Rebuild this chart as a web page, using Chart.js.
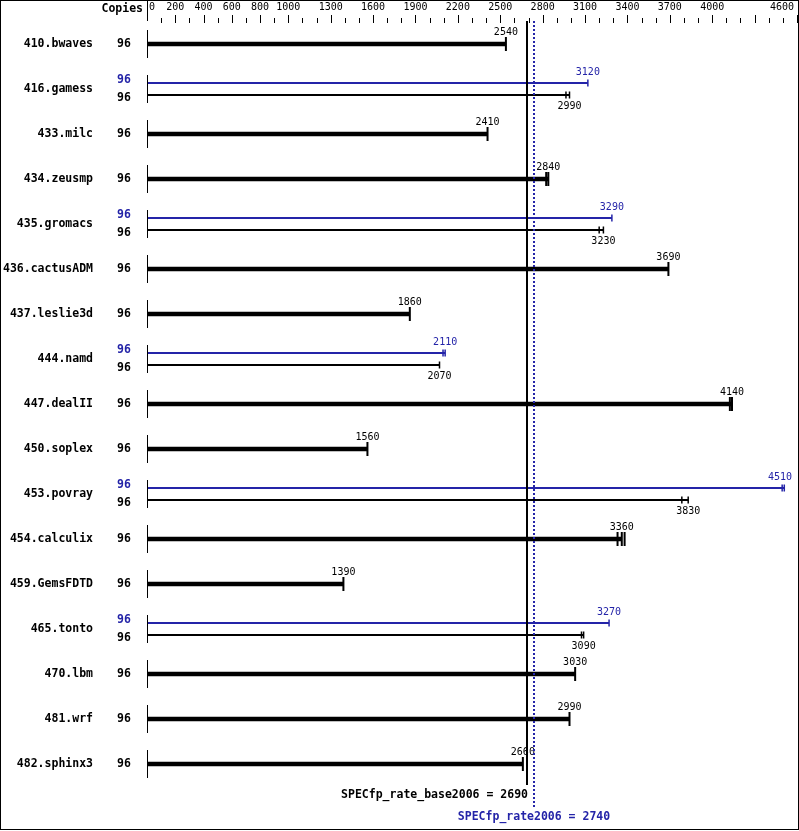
<!DOCTYPE html>
<html>
<head>
<meta charset="utf-8">
<script src="https://cdn.jsdelivr.net/npm/chart.js@4/dist/chart.umd.min.js"></script>
<style>
  body { margin: 0; background: #fff; }
  canvas { display: block; }
</style>
</head>
<body>
<canvas id="spec" width="799" height="831"></canvas>
<script>
// benchmark rows, top to bottom
const benchmarks = ['410.bwaves', '416.gamess', '433.milc', '434.zeusmp', '435.gromacs', '436.cactusADM',
  '437.leslie3d', '444.namd', '447.dealII', '450.soplex', '453.povray', '454.calculix', '459.GemsFDTD',
  '465.tonto', '470.lbm', '481.wrf', '482.sphinx3'];
const copies = [96, 96, 96, 96, 96, 96, 96, 96, 96, 96, 96, 96, 96, 96, 96, 96, 96];

// base and peak ratios (median), null when there is no peak run
const baseRate = [2540, 2990, 2410, 2840, 3230, 3690, 1860, 2070, 4140, 1560, 3830, 3360, 1390, 3090, 3030, 2990, 2660];
const peakRate = [null, 3120, null, null, 3290, null, null, 2110, null, null, 4510, null, null, 3270, null, null, null];

// individual run results, shown as the little end marks
const baseRuns = [[2540], [2965, 2990], [2410], [2825, 2840], [3200, 3230], [3690], [1860], [2070], [4125, 4140],
  [1560], [3785, 3830], [3330, 3360, 3380], [1390], [3075, 3090], [3030], [2990], [2660]];
const peakRuns = [null, [3120], null, null, [3290], null, null, [2095, 2110], null, null, [4495, 4510], null, null,
  [3270], null, null, null];

// top axis
const axisLabels = [0, 200, 400, 600, 800, 1000, 1300, 1600, 1900, 2200, 2500, 2800, 3100, 3400, 3700, 4000, 4600];
const longTicks = [...axisLabels, 4300];
const axisMax = 4600;

const baseScore = 2690;
const peakScore = 2740;

const BLUE = '#2424a8';
const ROW_OFF = 0.135; // half the gap between peak and base line, in row units

const datasets = [];
const thickTicks = [], thinTicks = [], peakTicks = [];

benchmarks.forEach((name, i) => {
  const hasPeak = peakRate[i] != null;
  if (hasPeak) {
    datasets.push({
      type: 'line', showLine: true, pointRadius: 0, borderColor: BLUE, borderWidth: 2,
      data: [{ x: 0, y: i - ROW_OFF }, { x: peakRate[i], y: i - ROW_OFF }]
    });
    datasets.push({
      type: 'line', showLine: true, pointRadius: 0, borderColor: '#000', borderWidth: 2,
      data: [{ x: 0, y: i + ROW_OFF }, { x: baseRate[i], y: i + ROW_OFF }]
    });
    peakRuns[i].forEach(v => peakTicks.push({ x: v, y: i - ROW_OFF }));
    baseRuns[i].forEach(v => thinTicks.push({ x: v, y: i + ROW_OFF }));
  } else {
    datasets.push({
      type: 'line', showLine: true, pointRadius: 0, borderColor: '#000', borderWidth: 4.5,
      data: [{ x: 0, y: i }, { x: baseRate[i], y: i }]
    });
    baseRuns[i].forEach(v => thickTicks.push({ x: v, y: i }));
  }
});

const tickStyle = { showLine: false, pointStyle: 'line', rotation: 90, borderWidth: 1.5 };
datasets.push({ ...tickStyle, data: thickTicks, pointRadius: 7, borderColor: '#000', borderWidth: 2 });
datasets.push({ ...tickStyle, data: thinTicks, pointRadius: 3.5, borderColor: '#000' });
datasets.push({ ...tickStyle, data: peakTicks, pointRadius: 3.5, borderColor: BLUE });

const BOLD = 'bold 11.5px "DejaVu Sans Mono"';
const SMALL = '10px "DejaVu Sans Mono"';

const specPlugin = {
  id: 'spec',
  beforeDraw(chart) {
    const c = chart.ctx;
    c.save();
    c.fillStyle = '#fff';
    c.fillRect(0, 0, chart.width, chart.height);
    c.restore();
  },
  afterDatasetsDraw(chart) {
    const c = chart.ctx;
    const xs = chart.scales.x, ys = chart.scales.y;
    const x0 = Math.round(xs.getPixelForValue(0)) + 0.5;
    c.save();

    // outer frame
    c.strokeStyle = '#000';
    c.lineWidth = 1;
    c.strokeRect(0.5, 0.5, 798, 829);

    // top axis
    c.beginPath();
    c.moveTo(x0, 0);
    c.lineTo(x0, 21);
    for (let v = 100; v <= axisMax; v += 100) {
      const px = Math.round(xs.getPixelForValue(v)) + 0.5;
      c.moveTo(px, longTicks.includes(v) ? 15 : 18);
      c.lineTo(px, 23);
    }
    c.stroke();

    c.font = SMALL;
    c.fillStyle = '#000';
    c.textBaseline = 'middle';
    axisLabels.forEach(v => {
      const px = xs.getPixelForValue(v);
      if (v === 0) {
        c.textAlign = 'left';
        c.fillText('0', px + 2, 7);
      } else {
        c.textAlign = 'center';
        c.fillText(String(v), Math.min(px, 794 - c.measureText(String(v)).width / 2), 7);
      }
    });
    c.font = BOLD;
    c.textAlign = 'right';
    c.fillText('Copies', 143, 9);

    // rows: names, copies, small axis segment, value labels
    benchmarks.forEach((name, i) => {
      const py = ys.getPixelForValue(i);
      c.strokeStyle = '#000';
      c.lineWidth = 1;
      c.beginPath();
      c.moveTo(x0, py - 14);
      c.lineTo(x0, py + 14);
      c.stroke();

      c.font = BOLD;
      c.textAlign = 'right';
      c.fillStyle = '#000';
      c.fillText(name, 93, py);
      c.textAlign = 'center';

      const hasPeak = peakRate[i] != null;
      if (hasPeak) {
        c.fillStyle = BLUE;
        c.fillText(String(copies[i]), 124, py - 9);
        c.fillStyle = '#000';
        c.fillText(String(copies[i]), 124, py + 9);

        c.font = SMALL;
        const pt = String(peakRate[i]);
        const half = c.measureText(pt).width / 2;
        c.fillStyle = BLUE;
        c.fillText(pt, Math.min(xs.getPixelForValue(peakRate[i]), 792 - half), py - 17);
        c.fillStyle = '#000';
        c.fillText(String(baseRate[i]), xs.getPixelForValue(baseRate[i]), py + 17);
      } else {
        c.fillText(String(copies[i]), 124, py);
        c.font = SMALL;
        c.fillText(String(baseRate[i]), xs.getPixelForValue(baseRate[i]), py - 12);
      }
    });

    // overall scores
    const bx = Math.round(xs.getPixelForValue(baseScore));
    c.strokeStyle = '#000';
    c.lineWidth = 2;
    c.beginPath();
    c.moveTo(bx, 21);
    c.lineTo(bx, 785);
    c.stroke();

    const px = Math.round(xs.getPixelForValue(peakScore));
    c.strokeStyle = BLUE;
    c.setLineDash([2, 2]);
    c.beginPath();
    c.moveTo(px, 21);
    c.lineTo(px, 808);
    c.stroke();
    c.setLineDash([]);

    c.font = BOLD;
    c.textAlign = 'right';
    c.fillStyle = '#000';
    c.fillText('SPECfp_rate_base2006 = ' + baseScore, bx + 1, 795);
    c.textAlign = 'center';
    c.fillStyle = BLUE;
    c.fillText('SPECfp_rate2006 = ' + peakScore, px, 817);

    c.restore();
  }
};

new Chart(document.getElementById('spec'), {
  type: 'scatter',
  data: { datasets },
  options: {
    responsive: false,
    animation: false,
    events: [],
    layout: { autoPadding: false, padding: { left: 147, right: 2, top: 21.5, bottom: 44.5 } },
    scales: {
      x: { type: 'linear', min: 0, max: axisMax, display: false },
      y: { type: 'linear', min: -0.5, max: benchmarks.length - 0.5, reverse: true, display: false }
    },
    plugins: { legend: { display: false }, tooltip: { enabled: false } }
  },
  plugins: [specPlugin]
});
</script>
</body>
</html>
